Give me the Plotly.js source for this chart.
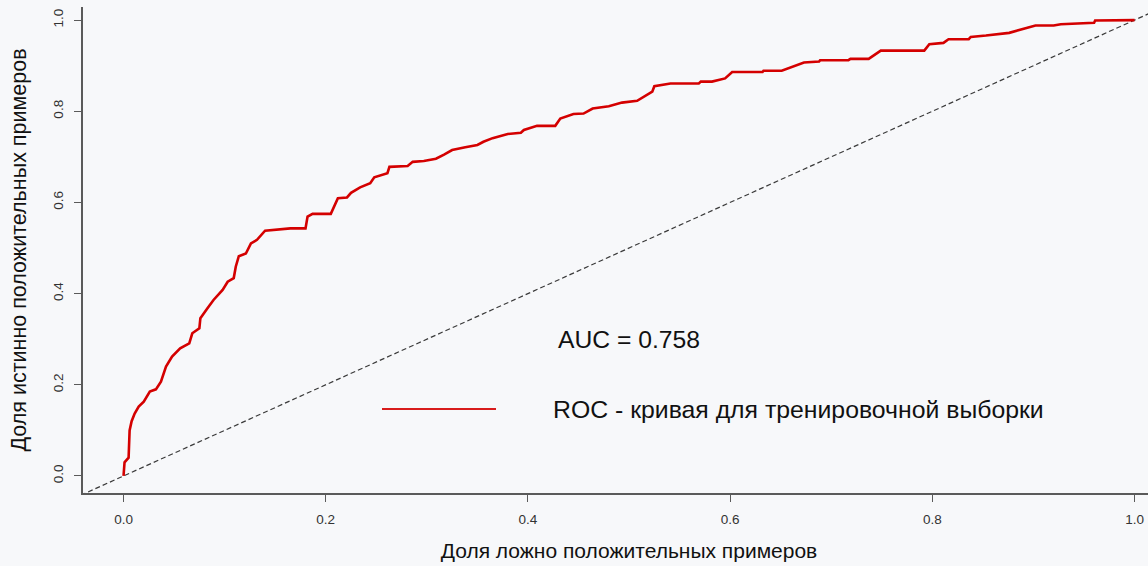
<!DOCTYPE html>
<html><head><meta charset="utf-8">
<script src="https://cdn.plot.ly/plotly-3.0.1.min.js"></script>
<style>html,body{margin:0;padding:0;background:#f7f8fa;overflow:hidden;}#chart{width:1175px;height:566px;}</style>
</head><body><div id="chart"></div>
<script>
const fpr = [0,0.001,0.005,0.006,0.008,0.011,0.015,0.020,0.026,0.032,0.037,0.042,0.048,0.056,0.065,0.068,0.075,0.076,0.083,0.089,0.098,0.103,0.109,0.111,0.114,0.121,0.126,0.132,0.140,0.165,0.180,0.182,0.187,0.205,0.212,0.221,0.225,0.234,0.244,0.248,0.261,0.263,0.281,0.286,0.297,0.309,0.317,0.325,0.338,0.350,0.356,0.365,0.380,0.393,0.396,0.409,0.427,0.432,0.445,0.455,0.464,0.480,0.493,0.508,0.523,0.525,0.541,0.569,0.571,0.582,0.595,0.602,0.632,0.633,0.651,0.666,0.673,0.688,0.689,0.717,0.719,0.737,0.749,0.792,0.797,0.811,0.816,0.836,0.838,0.853,0.876,0.902,0.920,0.927,0.960,0.961,1.0];
const tpr = [0,0.03,0.04,0.10,0.12,0.137,0.152,0.163,0.185,0.19,0.207,0.24,0.262,0.28,0.291,0.313,0.324,0.346,0.368,0.386,0.408,0.426,0.434,0.459,0.482,0.488,0.51,0.518,0.538,0.543,0.543,0.569,0.575,0.575,0.609,0.611,0.621,0.633,0.642,0.655,0.664,0.678,0.68,0.689,0.691,0.696,0.705,0.715,0.721,0.726,0.733,0.741,0.75,0.753,0.759,0.768,0.768,0.784,0.794,0.795,0.806,0.811,0.819,0.823,0.843,0.855,0.861,0.861,0.865,0.865,0.872,0.886,0.886,0.889,0.889,0.901,0.907,0.909,0.912,0.912,0.915,0.915,0.933,0.933,0.947,0.95,0.958,0.958,0.963,0.966,0.972,0.988,0.988,0.991,0.994,0.999,1.0];
const diagX = [-0.1, 1.1];
const diagY = [-0.1, 1.1];
const tickVals = [0, 0.2, 0.4, 0.6, 0.8, 1.0];
const tickText = ["0.0", "0.2", "0.4", "0.6", "0.8", "1.0"];
const aucText = "AUC = 0.758";
const legendText = "ROC - кривая для тренировочной выборки";
const xTitle = "Доля ложно положительных примеров";
const yTitle = "Доля истинно положительных примеров";

const FONT = "Liberation Sans, Arial, Helvetica, sans-serif";
const W = 1175;
const PW = W - 83;
const px = p => (p - 83) / PW;
const traces = [
  {x: diagX, y: diagY, mode: "lines", line: {color: "#3a3a3a", width: 1.2, dash: "5px,3px"}, hoverinfo: "skip", showlegend: false},
  {x: fpr, y: tpr, mode: "lines", line: {color: "#d40000", width: 2.6}, showlegend: false}
];
const axisCommon = {
  showgrid: false, zeroline: false, showline: true, linecolor: "#5a5a5a", linewidth: 2,
  ticks: "outside", ticklen: 7, tickwidth: 1, tickcolor: "#5a5a5a",
  tickvals: tickVals, ticktext: tickText, ticklabelstandoff: 6,
  tickfont: {family: FONT, size: 13.5, color: "#333333"}
};
const layout = {
  width: W, height: 566,
  paper_bgcolor: "#f7f8fa", plot_bgcolor: "#f7f8fa",
  margin: {l: 83, r: 0, t: 7, b: 73},
  showlegend: false,
  xaxis: Object.assign({}, axisCommon, {
    range: [-0.0401, 1.0400],
    title: {text: xTitle, font: {family: FONT, size: 21, color: "#111111"}, standoff: 17}
  }),
  yaxis: Object.assign({}, axisCommon, {
    range: [-0.0374, 1.0287], tickangle: -90,
    title: {text: yTitle, font: {family: FONT, size: 21.5, color: "#111111"}, standoff: 18}
  }),
  annotations: [
    {text: aucText, xref: "paper", yref: "paper", x: px(556), y: 0.3152, xanchor: "left", yanchor: "middle", showarrow: false,
     font: {family: FONT, size: 24.7, color: "#111111"}},
    {text: legendText, xref: "paper", yref: "paper", x: px(551), y: 0.171, xanchor: "left", yanchor: "middle", showarrow: false,
     font: {family: FONT, size: 24.8, color: "#111111"}}
  ],
  shapes: [
    {type: "line", xref: "paper", yref: "paper", x0: px(382), x1: px(496), y0: 0.173, y1: 0.173,
     line: {color: "#d81c1c", width: 2}}
  ]
};
Plotly.newPlot("chart", traces, layout, {displayModeBar: false, staticPlot: true});
</script></body></html>
